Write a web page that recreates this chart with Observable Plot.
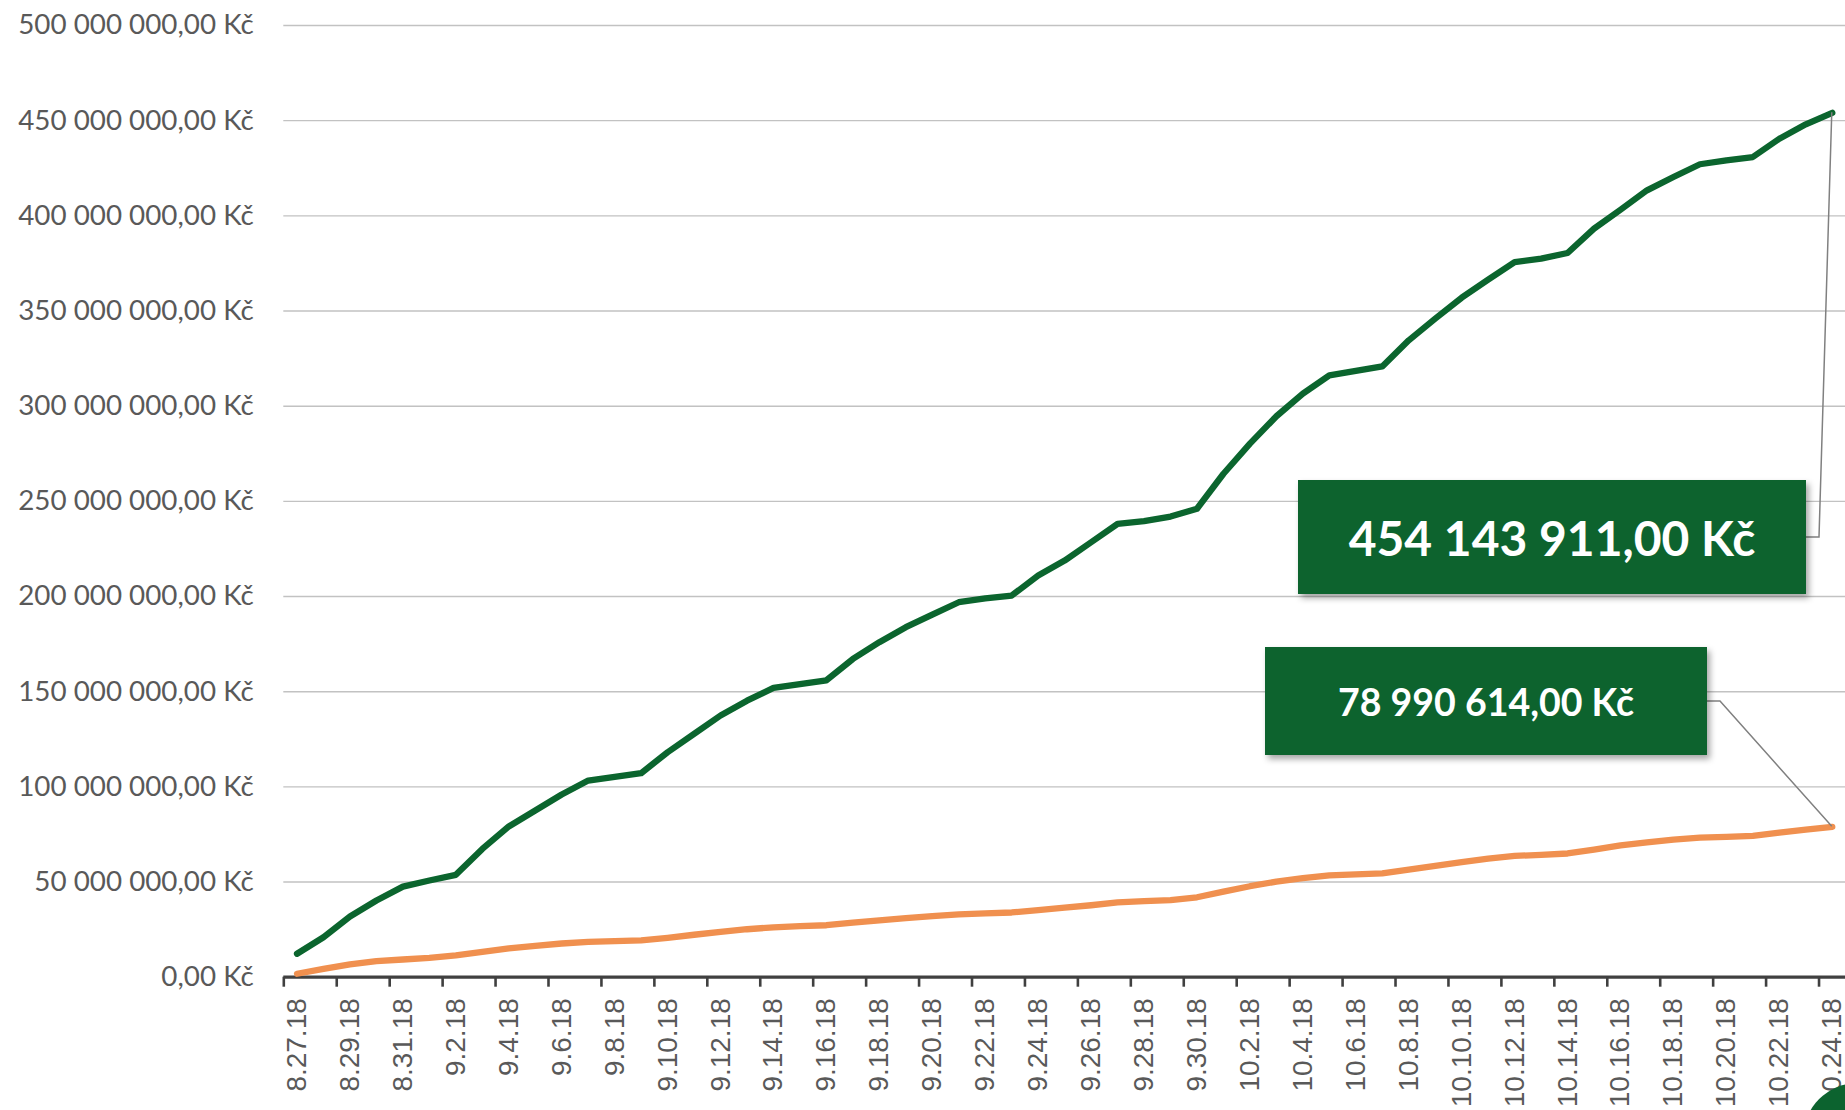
<!DOCTYPE html>
<html><head><meta charset="utf-8">
<script src="https://cdn.jsdelivr.net/npm/d3@7"></script>
<script src="https://cdn.jsdelivr.net/npm/@observablehq/plot@0.6"></script>
<style>
html,body{margin:0;padding:0;background:#fff;overflow:hidden;width:1845px;height:1110px;}
#chart{position:absolute;left:0;top:0;}
#blob{position:absolute;left:1803px;top:1083px;width:110px;height:110px;border-radius:50%;background:#0c632f;}
</style></head><body>
<div id="chart"></div><div id="blob"></div>
<script>
// Categories (days)
const dates = ["8.27.18","8.28.18","8.29.18","8.30.18","8.31.18",
"9.1.18","9.2.18","9.3.18","9.4.18","9.5.18","9.6.18","9.7.18","9.8.18","9.9.18","9.10.18",
"9.11.18","9.12.18","9.13.18","9.14.18","9.15.18","9.16.18","9.17.18","9.18.18","9.19.18","9.20.18",
"9.21.18","9.22.18","9.23.18","9.24.18","9.25.18","9.26.18","9.27.18","9.28.18","9.29.18","9.30.18",
"10.1.18","10.2.18","10.3.18","10.4.18","10.5.18","10.6.18","10.7.18","10.8.18","10.9.18","10.10.18",
"10.11.18","10.12.18","10.13.18","10.14.18","10.15.18","10.16.18","10.17.18","10.18.18","10.19.18","10.20.18",
"10.21.18","10.22.18","10.23.18","10.24.18"];

// Green series (Kč)
const seriesGreen = [12300000,21000000,31900000,40300000,47600000,50800000,53800000,67400000,79200000,87600000,
96000000,103300000,105200000,107200000,118200000,127800000,137500000,145300000,152000000,154000000,
156000000,167200000,176000000,183900000,190500000,197000000,199000000,200500000,211000000,218900000,
228500000,238200000,239600000,242000000,246100000,264500000,280300000,294700000,306600000,316200000,
318500000,320900000,334600000,346000000,357000000,366500000,375700000,377500000,380500000,393300000,
403200000,413400000,420400000,427100000,429200000,430900000,440500000,448100000,454143911];

// Orange series (Kč)
const seriesOrange = [1800000,4400000,6700000,8400000,9300000,10200000,11500000,13300000,15100000,16500000,
17700000,18600000,19000000,19400000,20700000,22300000,23800000,25200000,26200000,26800000,
27300000,28700000,29900000,31000000,32100000,33000000,33500000,34000000,35200000,36500000,
37800000,39300000,40000000,40500000,42000000,45000000,47800000,50200000,52000000,53500000,
54000000,54600000,56500000,58500000,60500000,62300000,63700000,64300000,65000000,67000000,
69200000,70800000,72300000,73300000,73700000,74200000,75900000,77500000,78990614];

// Y tick values
const yTickValues = [0,50000000,100000000,150000000,200000000,250000000,300000000,350000000,400000000,450000000,500000000];

const cz = d3.formatLocale({decimal: ",", thousands: " ", grouping: [3], currency: ["", " Kč"]});
const fmtKc = cz.format("$,.2f");

const n = dates.length;
const labelIdx = d3.range(0, n, 2);
const boundaryTicks = d3.range(0, n, 2).map(i => i - 0.5);

const rowsGreen = seriesGreen.map((v, i) => ({i, v}));
const rowsOrange = seriesOrange.map((v, i) => ({i, v}));

const GREEN = "#0b652e", ORANGE = "#f0904f", AXIS = "#404040", TXT = "#595959";

const plot = Plot.plot({
  width: 1845, height: 1110,
  marginLeft: 283.3, marginRight: 0, marginTop: 25, marginBottom: 133.3,
  style: {background: "#fff", overflow: "visible"},
  x: {type: "linear", domain: [-0.5, n - 0.5], axis: null},
  y: {domain: [0, 500000000], axis: null},
  marks: [
    Plot.gridY(yTickValues.slice(1), {stroke: "#c2c2c2", strokeOpacity: 1, strokeWidth: 1.4}),
    Plot.axisY(yTickValues, {anchor: "left", tickSize: 0, tickPadding: 30, tickFormat: fmtKc,
      fontSize: 27.8, fontFamily: "Lato", color: TXT, label: null}),
    Plot.ruleY([0], {stroke: AXIS, strokeWidth: 3.2}),
    Plot.axisX(boundaryTicks, {anchor: "bottom", tickSize: 10, tickFormat: () => "", stroke: AXIS,
      strokeWidth: 2.6, label: null}),
    Plot.axisX(labelIdx, {anchor: "bottom", tickSize: 0, tickPadding: 21, tickRotate: -90,
      tickFormat: i => dates[i], fontSize: 28, fontFamily: "Liberation Sans", color: TXT, label: null}),
    Plot.line(rowsOrange, {x: "i", y: "v", stroke: ORANGE, strokeWidth: 6.3, strokeLinejoin: "round", strokeLinecap: "round"}),
    Plot.line(rowsGreen, {x: "i", y: "v", stroke: GREEN, strokeWidth: 6.3, strokeLinejoin: "round", strokeLinecap: "round"})
  ]
});
document.getElementById("chart").appendChild(plot);

// Callouts for the last value of each series
const xs = plot.scale("x"), ys = plot.scale("y");
const last = n - 1;
const callouts = [
  {value: seriesGreen[last], i: last, box: {x: 1298, y: 480, w: 508, h: 114}, size: 48},
  {value: seriesOrange[last], i: last, box: {x: 1265, y: 647, w: 442, h: 108}, size: 37.5}
];
const svg = d3.select(plot);
const defs = svg.append("defs");
const f = defs.append("filter").attr("id", "sh").attr("x", "-10%").attr("y", "-10%").attr("width", "130%").attr("height", "150%");
f.append("feDropShadow").attr("dx", 3).attr("dy", 4).attr("stdDeviation", 3).attr("flood-color", "#000").attr("flood-opacity", 0.35);
const g = svg.append("g");
for (const c of callouts) {
  const px = xs.apply(c.i), py = ys.apply(c.value);
  const b = c.box, my = b.y + b.h / 2, rx = b.x + b.w;
  g.append("path").attr("d", `M${px},${py}L${rx + 13},${my}L${rx},${my}`)
    .attr("fill", "none").attr("stroke", "#808080").attr("stroke-width", 1.5);
  g.append("rect").attr("x", b.x).attr("y", b.y).attr("width", b.w).attr("height", b.h)
    .attr("fill", "#0c632f").attr("filter", "url(#sh)");
  g.append("text").attr("x", b.x + b.w / 2).attr("y", my).attr("text-anchor", "middle")
    .attr("dominant-baseline", "central").attr("fill", "#fff").attr("font-family", "Lato")
    .attr("font-weight", "bold").attr("font-size", c.size).text(fmtKc(c.value));
}
</script>
</body></html>
